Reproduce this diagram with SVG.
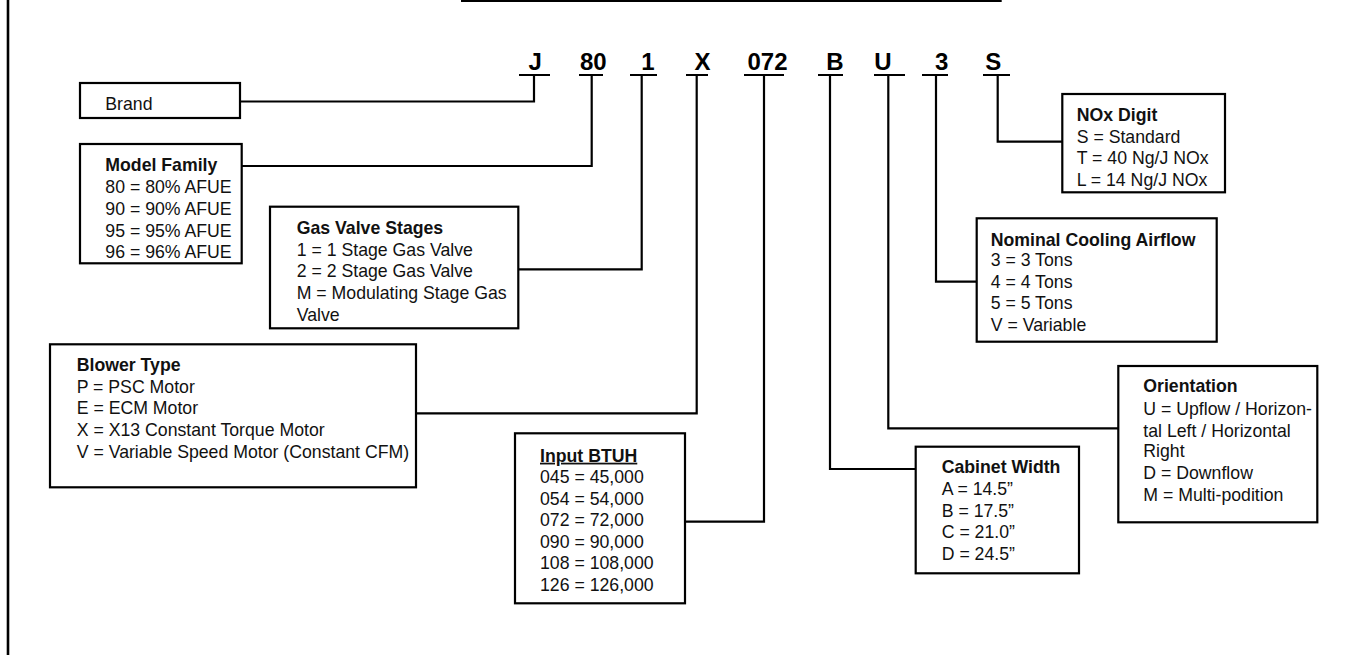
<svg xmlns="http://www.w3.org/2000/svg" width="1345" height="655" viewBox="0 0 1345 655">
<style>
.bx{fill:#fff;stroke:#000;stroke-width:2.2}
.ln{fill:none;stroke:#000;stroke-width:2.2}
.t{font-family:"Liberation Sans",Arial,sans-serif;font-size:17.7px;fill:#111}
.b{font-weight:bold}
.code{font-family:"Liberation Sans",Arial,sans-serif;font-size:24px;font-weight:bold;fill:#000;text-anchor:middle}
</style>
<rect width="1345" height="655" fill="#fff"/>
<g id="frame">
<line class="ln" x1="8" y1="0" x2="8" y2="655" style="stroke-width:2.6"/>
<line class="ln" x1="461" y1="1" x2="1001.7" y2="1"/>
</g>
<g id="code">
<text class="code" x="535.3" y="70">J</text>
<text class="code" x="593.3" y="70">80</text>
<text class="code" x="648" y="70">1</text>
<text class="code" x="702.5" y="70">X</text>
<text class="code" x="767.5" y="70">072</text>
<text class="code" x="835" y="70">B</text>
<text class="code" x="883" y="70">U</text>
<text class="code" x="941.7" y="70">3</text>
<text class="code" x="993.3" y="70">S</text>
<path class="ln" d="M519 75H550M579 75H603M630 75H657M686 75H708M744 75H784M818 75H843M874 75H905M922 75H948M983 75H1010"/>
</g>
<g id="connectors">
<path class="ln" d="M534 75V101.5H240"/>
<path class="ln" d="M591.7 75V166H241.7"/>
<path class="ln" d="M641.7 75V269.3H518.3"/>
<path class="ln" d="M696.7 75V413.3H416"/>
<path class="ln" d="M764 75V521.7H685"/>
<path class="ln" d="M830 75V469H915.7"/>
<path class="ln" d="M888.3 75V428.3H1118.3"/>
<path class="ln" d="M936 75V281.7H976.7"/>
<path class="ln" d="M997.7 75V141.7H1062.3"/>
</g>
<g id="brand">
<rect class="bx" x="80" y="83" width="160" height="35"/>
<text class="t" x="105.3" y="110">Brand</text>
</g>
<g id="model-family">
<rect class="bx" x="80" y="144" width="161.7" height="119.3"/>
<text class="t b" x="105.3" y="170.7">Model Family</text>
<text class="t" x="105.3" y="193.3">80 = 80% AFUE</text>
<text class="t" x="105.3" y="215">90 = 90% AFUE</text>
<text class="t" x="105.3" y="236.5">95 = 95% AFUE</text>
<text class="t" x="105.3" y="258">96 = 96% AFUE</text>
</g>
<g id="gas-valve-stages">
<rect class="bx" x="270" y="206.7" width="248.3" height="121.6"/>
<text class="t b" x="296.7" y="234">Gas Valve Stages</text>
<text class="t" x="296.7" y="256">1 = 1 Stage Gas Valve</text>
<text class="t" x="296.7" y="277.3">2 = 2 Stage Gas Valve</text>
<text class="t" x="296.7" y="299">M = Modulating Stage Gas</text>
<text class="t" x="296.7" y="320.7">Valve</text>
</g>
<g id="blower-type">
<rect class="bx" x="50" y="344.3" width="366" height="143"/>
<text class="t b" x="76.7" y="370.7">Blower Type</text>
<text class="t" x="76.7" y="393.3">P = PSC Motor</text>
<text class="t" x="76.7" y="414.3">E = ECM Motor</text>
<text class="t" x="76.7" y="435.5">X = X13 Constant Torque Motor</text>
<text class="t" x="76.7" y="457.5">V = Variable Speed Motor (Constant CFM)</text>
</g>
<g id="input-btuh">
<rect class="bx" x="515" y="433.3" width="170" height="170"/>
<text class="t b" x="540" y="461.7" text-decoration="underline">Input BTUH</text>
<text class="t" x="540" y="483.3">045 = 45,000</text>
<text class="t" x="540" y="504.5">054 = 54,000</text>
<text class="t" x="540" y="526">072 = 72,000</text>
<text class="t" x="540" y="547.5">090 = 90,000</text>
<text class="t" x="540" y="569">108 = 108,000</text>
<text class="t" x="540" y="590.5">126 = 126,000</text>
</g>
<g id="cabinet-width">
<rect class="bx" x="915.7" y="446.7" width="163.3" height="126.6"/>
<text class="t b" x="941.7" y="473.3">Cabinet Width</text>
<text class="t" x="941.7" y="495">A = 14.5”</text>
<text class="t" x="941.7" y="516.7">B = 17.5”</text>
<text class="t" x="941.7" y="538">C = 21.0”</text>
<text class="t" x="941.7" y="559.7">D = 24.5”</text>
</g>
<g id="orientation">
<rect class="bx" x="1118.3" y="366" width="199" height="156.3"/>
<text class="t b" x="1143.3" y="392.3">Orientation</text>
<text class="t" x="1143.3" y="415">U = Upflow / Horizon-</text>
<text class="t" x="1143.3" y="436.7">tal Left / Horizontal</text>
<text class="t" x="1143.3" y="457.3">Right</text>
<text class="t" x="1143.3" y="479.3">D = Downflow</text>
<text class="t" x="1143.3" y="501.2">M = Multi-podition</text>
</g>
<g id="nominal-cooling-airflow">
<rect class="bx" x="976.7" y="218.3" width="240" height="123.4"/>
<text class="t b" x="990.7" y="245.7">Nominal Cooling Airflow</text>
<text class="t" x="990.7" y="266">3 = 3 Tons</text>
<text class="t" x="990.7" y="287.7">4 = 4 Tons</text>
<text class="t" x="990.7" y="309.3">5 = 5 Tons</text>
<text class="t" x="990.7" y="330.7">V = Variable</text>
</g>
<g id="nox-digit">
<rect class="bx" x="1062.3" y="94" width="162.7" height="98.3"/>
<text class="t b" x="1076.7" y="120.7">NOx Digit</text>
<text class="t" x="1076.7" y="142.7">S = Standard</text>
<text class="t" x="1076.7" y="164.3">T = 40 Ng/J NOx</text>
<text class="t" x="1076.7" y="185.7">L = 14 Ng/J NOx</text>
</g>
</svg>
